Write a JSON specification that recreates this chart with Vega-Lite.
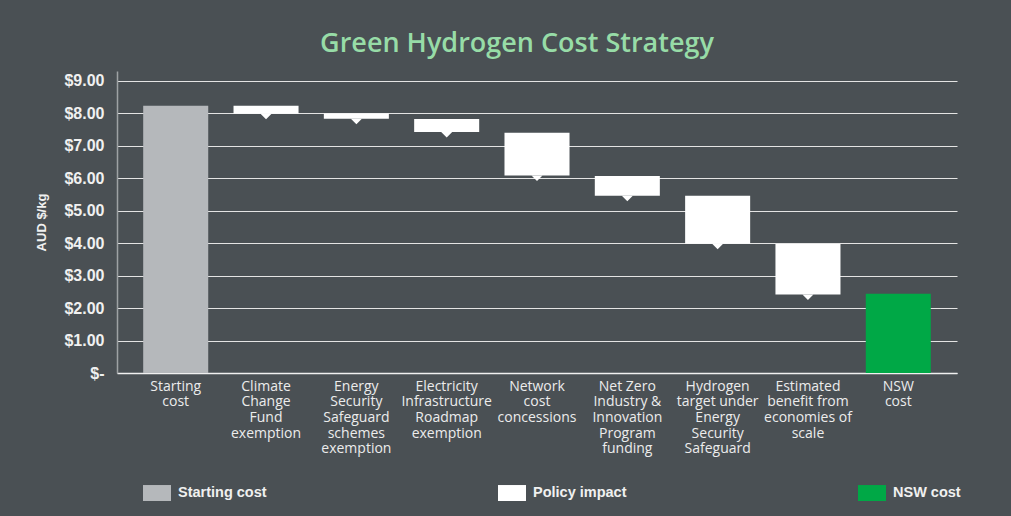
{
  "$schema": "https://vega.github.io/schema/vega-lite/v6.json",
  "width": 840,
  "height": 302,
  "autosize": {"type": "none"},
  "padding": {"left": 117, "top": 71, "right": 54, "bottom": 143},
  "background": "#4a5054",
  "title": {
    "text": "Green Hydrogen Cost Strategy",
    "font": "Open Sans",
    "fontSize": 27,
    "fontWeight": 600,
    "color": "#97dca7",
    "anchor": "middle",
    "baseline": "alphabetic",
    "offset": 19,
    "dy": 27,
    "dx": -20
  },
  "config": {
    "view": {"stroke": null},
    "axis": {"labelFont": "Open Sans", "titleFont": "Liberation Sans"}
  },
  "data": {
    "values": [
      {"cat": "Starting|cost", "start": 0, "end": 8.23, "type": "Starting cost"},
      {"cat": "Climate|Change|Fund|exemption", "start": 8.23, "end": 7.98, "type": "Policy impact"},
      {"cat": "Energy|Security|Safeguard|schemes|exemption", "start": 7.99, "end": 7.83, "type": "Policy impact"},
      {"cat": "Electricity|Infrastructure|Roadmap|exemption", "start": 7.82, "end": 7.42, "type": "Policy impact"},
      {"cat": "Network|cost|concessions", "start": 7.4, "end": 6.08, "type": "Policy impact"},
      {"cat": "Net Zero|Industry &|Innovation|Program|funding", "start": 6.07, "end": 5.46, "type": "Policy impact"},
      {"cat": "Hydrogen|target under|Energy|Security|Safeguard", "start": 5.46, "end": 3.98, "type": "Policy impact"},
      {"cat": "Estimated|benefit from|economies of|scale", "start": 3.97, "end": 2.42, "type": "Policy impact"},
      {"cat": "NSW|cost", "start": 0, "end": 2.44, "type": "NSW cost"}
    ]
  },
  "encoding": {
    "x": {
      "field": "cat",
      "type": "nominal",
      "sort": null,
      "scale": {"paddingInner": 0.28, "paddingOuter": 0.29},
      "axis": {
        "title": null,
        "labelAngle": 0,
        "labelExpr": "split(datum.value, '|')",
        "labelFont": "Open Sans",
        "labelFontSize": 14,
        "labelLineHeight": 15.7,
        "labelColor": "#ececec",
        "labelPadding": 6,
        "labelBaseline": "top",
        "ticks": false,
        "domainColor": "#f0f0f0",
        "domainWidth": 1.5,
        "grid": false
      }
    },
    "y": {
      "field": "end",
      "type": "quantitative",
      "scale": {"domain": [0, 9.3], "nice": false},
      "axis": {
        "title": "AUD $/kg",
        "titleFont": "Liberation Sans",
        "titleFontSize": 13,
        "titleFontWeight": "bold",
        "titleColor": "#f0f0f0",
        "titlePadding": 15,
        "values": [0, 1, 2, 3, 4, 5, 6, 7, 8, 9],
        "labelOverlap": false,
        "labelExpr": "datum.value == 0 ? '$-' : '$' + format(datum.value, '.2f')",
        "labelFont": "Liberation Sans",
        "labelFontSize": 16,
        "labelFontWeight": "bold",
        "labelColor": "#f0f0f0",
        "labelPadding": 13,
        "ticks": false,
        "domainColor": "#9ea2a4",
        "domainWidth": 1.5,
        "gridColor": "#e4e4e4",
        "gridWidth": 1
      }
    }
  },
  "layer": [
    {
      "mark": {"type": "bar", "strokeWidth": 0},
      "encoding": {
        "y2": {"field": "start"},
        "color": {
          "field": "type",
          "type": "nominal",
          "scale": {
            "domain": ["Starting cost", "Policy impact", "NSW cost"],
            "range": ["#b5b8bb", "#ffffff", "#00a846"]
          },
          "legend": {
            "title": null,
            "orient": "none",
            "direction": "horizontal",
            "legendX": 26,
            "legendY": 408,
            "padding": 0,
            "symbolType": "M-1,-0.57H1V0.57H-1Z",
            "symbolSize": 784,
            "symbolStrokeWidth": 0,
            "symbolOpacity": 1,
            "labelOffset": 7,
            "labelFont": "Liberation Sans",
            "labelFontSize": 14.5,
            "labelFontWeight": "bold",
            "labelColor": "#f0f0f0",
            "columnPadding": 231,
            "labelLimit": 200
          }
        }
      }
    },
    {
      "transform": [{"filter": "datum.type == 'Policy impact'"}],
      "mark": {
        "type": "point",
        "shape": "M-1,0L1,0L0,1Z",
        "filled": true,
        "size": 121,
        "color": "#ffffff",
        "opacity": 1,
        "strokeWidth": 0
      }
    }
  ]
}
